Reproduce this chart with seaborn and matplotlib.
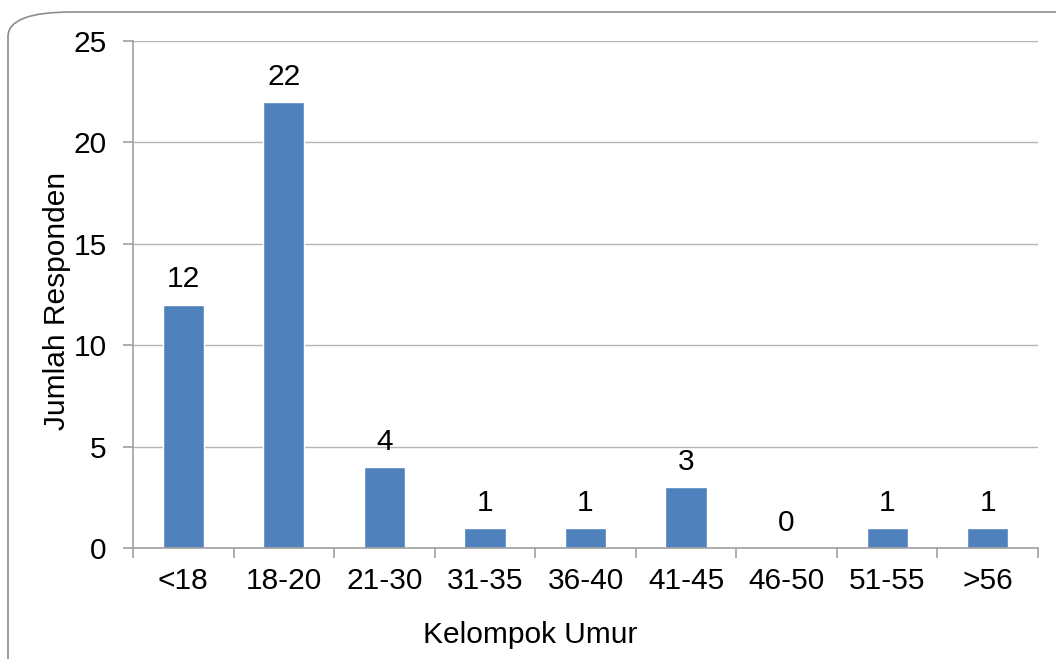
import pandas as pd
import seaborn as sns
import matplotlib.pyplot as plt
from matplotlib.patches import FancyBboxPatch
import numpy as np

# age groups and respondent counts
kelompok = ['<18', '18-20', '21-30', '31-35', '36-40', '41-45', '46-50', '51-55', '>56']
jumlah = [12, 22, 4, 1, 1, 3, 0, 1, 1]
y_ticks = [0, 5, 10, 15, 20, 25]

df = pd.DataFrame({'Kelompok Umur': kelompok, 'Jumlah Responden': jumlah})

sns.set_style('white')
plt.rcParams['font.family'] = ['Liberation Sans', 'DejaVu Sans']
plt.rcParams['text.color'] = 'black'
plt.rcParams['axes.labelcolor'] = 'black'
plt.rcParams['xtick.color'] = 'black'
plt.rcParams['ytick.color'] = 'black'

fs = 21.5

fig = plt.figure(figsize=(10.56, 6.59), dpi=100)
ax = fig.add_axes([133 / 1056, 1 - 548 / 659, (1038 - 133) / 1056, (548 - 41) / 659])

sns.barplot(data=df, x='Kelompok Umur', y='Jumlah Responden', color='#4F81BD',
            saturation=1, width=0.41, ax=ax)

ax.set_xlim(-0.5, len(kelompok) - 0.5)
ax.set_ylim(0, 25)
ax.set_yticks(y_ticks)
ax.yaxis.grid(True, color='#B4B4B4', linewidth=1)
ax.set_axisbelow(True)

for s in ['top', 'right']:
    ax.spines[s].set_visible(False)
for s in ['left', 'bottom']:
    ax.spines[s].set_color('#A0A0A0')
    ax.spines[s].set_linewidth(1.2)

ax.tick_params(axis='y', length=7, color='#A0A0A0', labelcolor='black', width=1.2,
               labelsize=fs, pad=12, left=True)
ax.tick_params(axis='x', which='major', length=0, labelsize=fs, labelcolor='black', pad=14)
ax.set_xticks(np.arange(-0.5, len(kelompok)), minor=True)
ax.tick_params(axis='x', which='minor', length=7, color='#A0A0A0', width=1.2, bottom=True)

for i, v in enumerate(jumlah):
    ax.text(i, v + 0.55, str(v), ha='center', va='bottom', fontsize=fs, color='black')

ax.set_xlabel('Kelompok Umur', fontsize=fs, color='black')
ax.xaxis.set_label_coords(0.439, -0.143)
ax.set_ylabel('Jumlah Responden', fontsize=fs, color='black')
ax.yaxis.set_label_coords(-0.069, 0.487)

# rounded outer frame
frame = FancyBboxPatch((8 / 1056, -0.2), 1.2, 1.2 - 12 / 659,
                       boxstyle='round,pad=0,rounding_size=0.06',
                       transform=fig.transFigure, fill=False,
                       edgecolor='#8C8C8C', linewidth=1.2, zorder=0,
                       mutation_aspect=659 / 1056)
fig.patches.append(frame)

plt.savefig('out.png', dpi=100)
